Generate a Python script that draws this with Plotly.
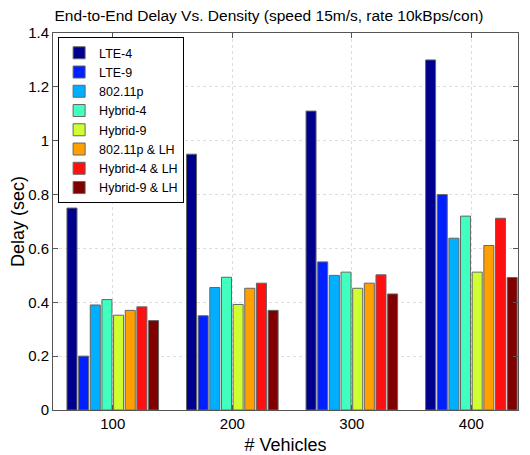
import plotly.graph_objects as go

groups = [1, 2, 3, 4]
tick_labels = ["100", "200", "300", "400"]
series_names = ["LTE-4", "LTE-9", "802.11p", "Hybrid-4", "Hybrid-9",
                "802.11p & LH", "Hybrid-4 & LH", "Hybrid-9 & LH"]
lte4 = [0.75, 0.95, 1.11, 1.30]
lte9 = [0.20, 0.35, 0.55, 0.80]
p80211 = [0.39, 0.455, 0.50, 0.638]
hybrid4 = [0.41, 0.493, 0.512, 0.72]
hybrid9 = [0.352, 0.392, 0.452, 0.512]
p80211_lh = [0.37, 0.452, 0.471, 0.611]
hybrid4_lh = [0.383, 0.471, 0.502, 0.712]
hybrid9_lh = [0.332, 0.37, 0.431, 0.492]
values = [lte4, lte9, p80211, hybrid4, hybrid9, p80211_lh, hybrid4_lh, hybrid9_lh]
colors = ["#00008F", "#0020FF", "#00AFFF", "#40FFBF", "#CFFF30",
          "#FF9F00", "#FF1010", "#800000"]

fig = go.Figure()
for name, vals, col in zip(series_names, values, colors):
    fig.add_trace(go.Bar(x=groups, y=vals, name=name,
                         marker=dict(color=col, line=dict(color="#666666", width=1))))

font = "Liberation Sans, Arial, sans-serif"
fig.update_layout(
    width=522, height=447,
    margin=dict(l=45, r=12, t=25, b=45),
    paper_bgcolor="white", plot_bgcolor="white",
    barmode="group", bargap=0.22, bargroupgap=0.14,
    font=dict(family=font, size=15, color="black"),
    title=dict(text="End-to-End Delay Vs. Density (speed 15m/s, rate 10kBps/con)",
               x=0.5, xanchor="center", xref="container",
               y=0.983, yanchor="middle", yref="container",
               font=dict(size=15.5)),
    xaxis=dict(range=[0.5, 4.39], tickvals=groups, ticktext=tick_labels,
               automargin=False,
               showline=True, linecolor="#555555", mirror="ticks", ticks="inside",
               ticklen=5, tickcolor="#555555",
               showgrid=True, gridcolor="#dddddd", griddash="dot",
               title=dict(text="# Vehicles", standoff=7), zeroline=False),
    yaxis=dict(range=[0, 1.4], dtick=0.2, tickformat="~g",
               automargin=False,
               showline=True, linecolor="#555555", mirror="ticks", ticks="inside",
               ticklen=5, tickcolor="#555555",
               showgrid=True, gridcolor="#dddddd", griddash="dot",
               title=dict(text="Delay (sec)", standoff=4), zeroline=False),
    legend=dict(x=0.011, y=0.989, xanchor="left", yanchor="top",
                bgcolor="white", bordercolor="black", borderwidth=1,
                tracegroupgap=0, itemwidth=30, font=dict(size=12.5)),
)

fig.write_html("out.html")
